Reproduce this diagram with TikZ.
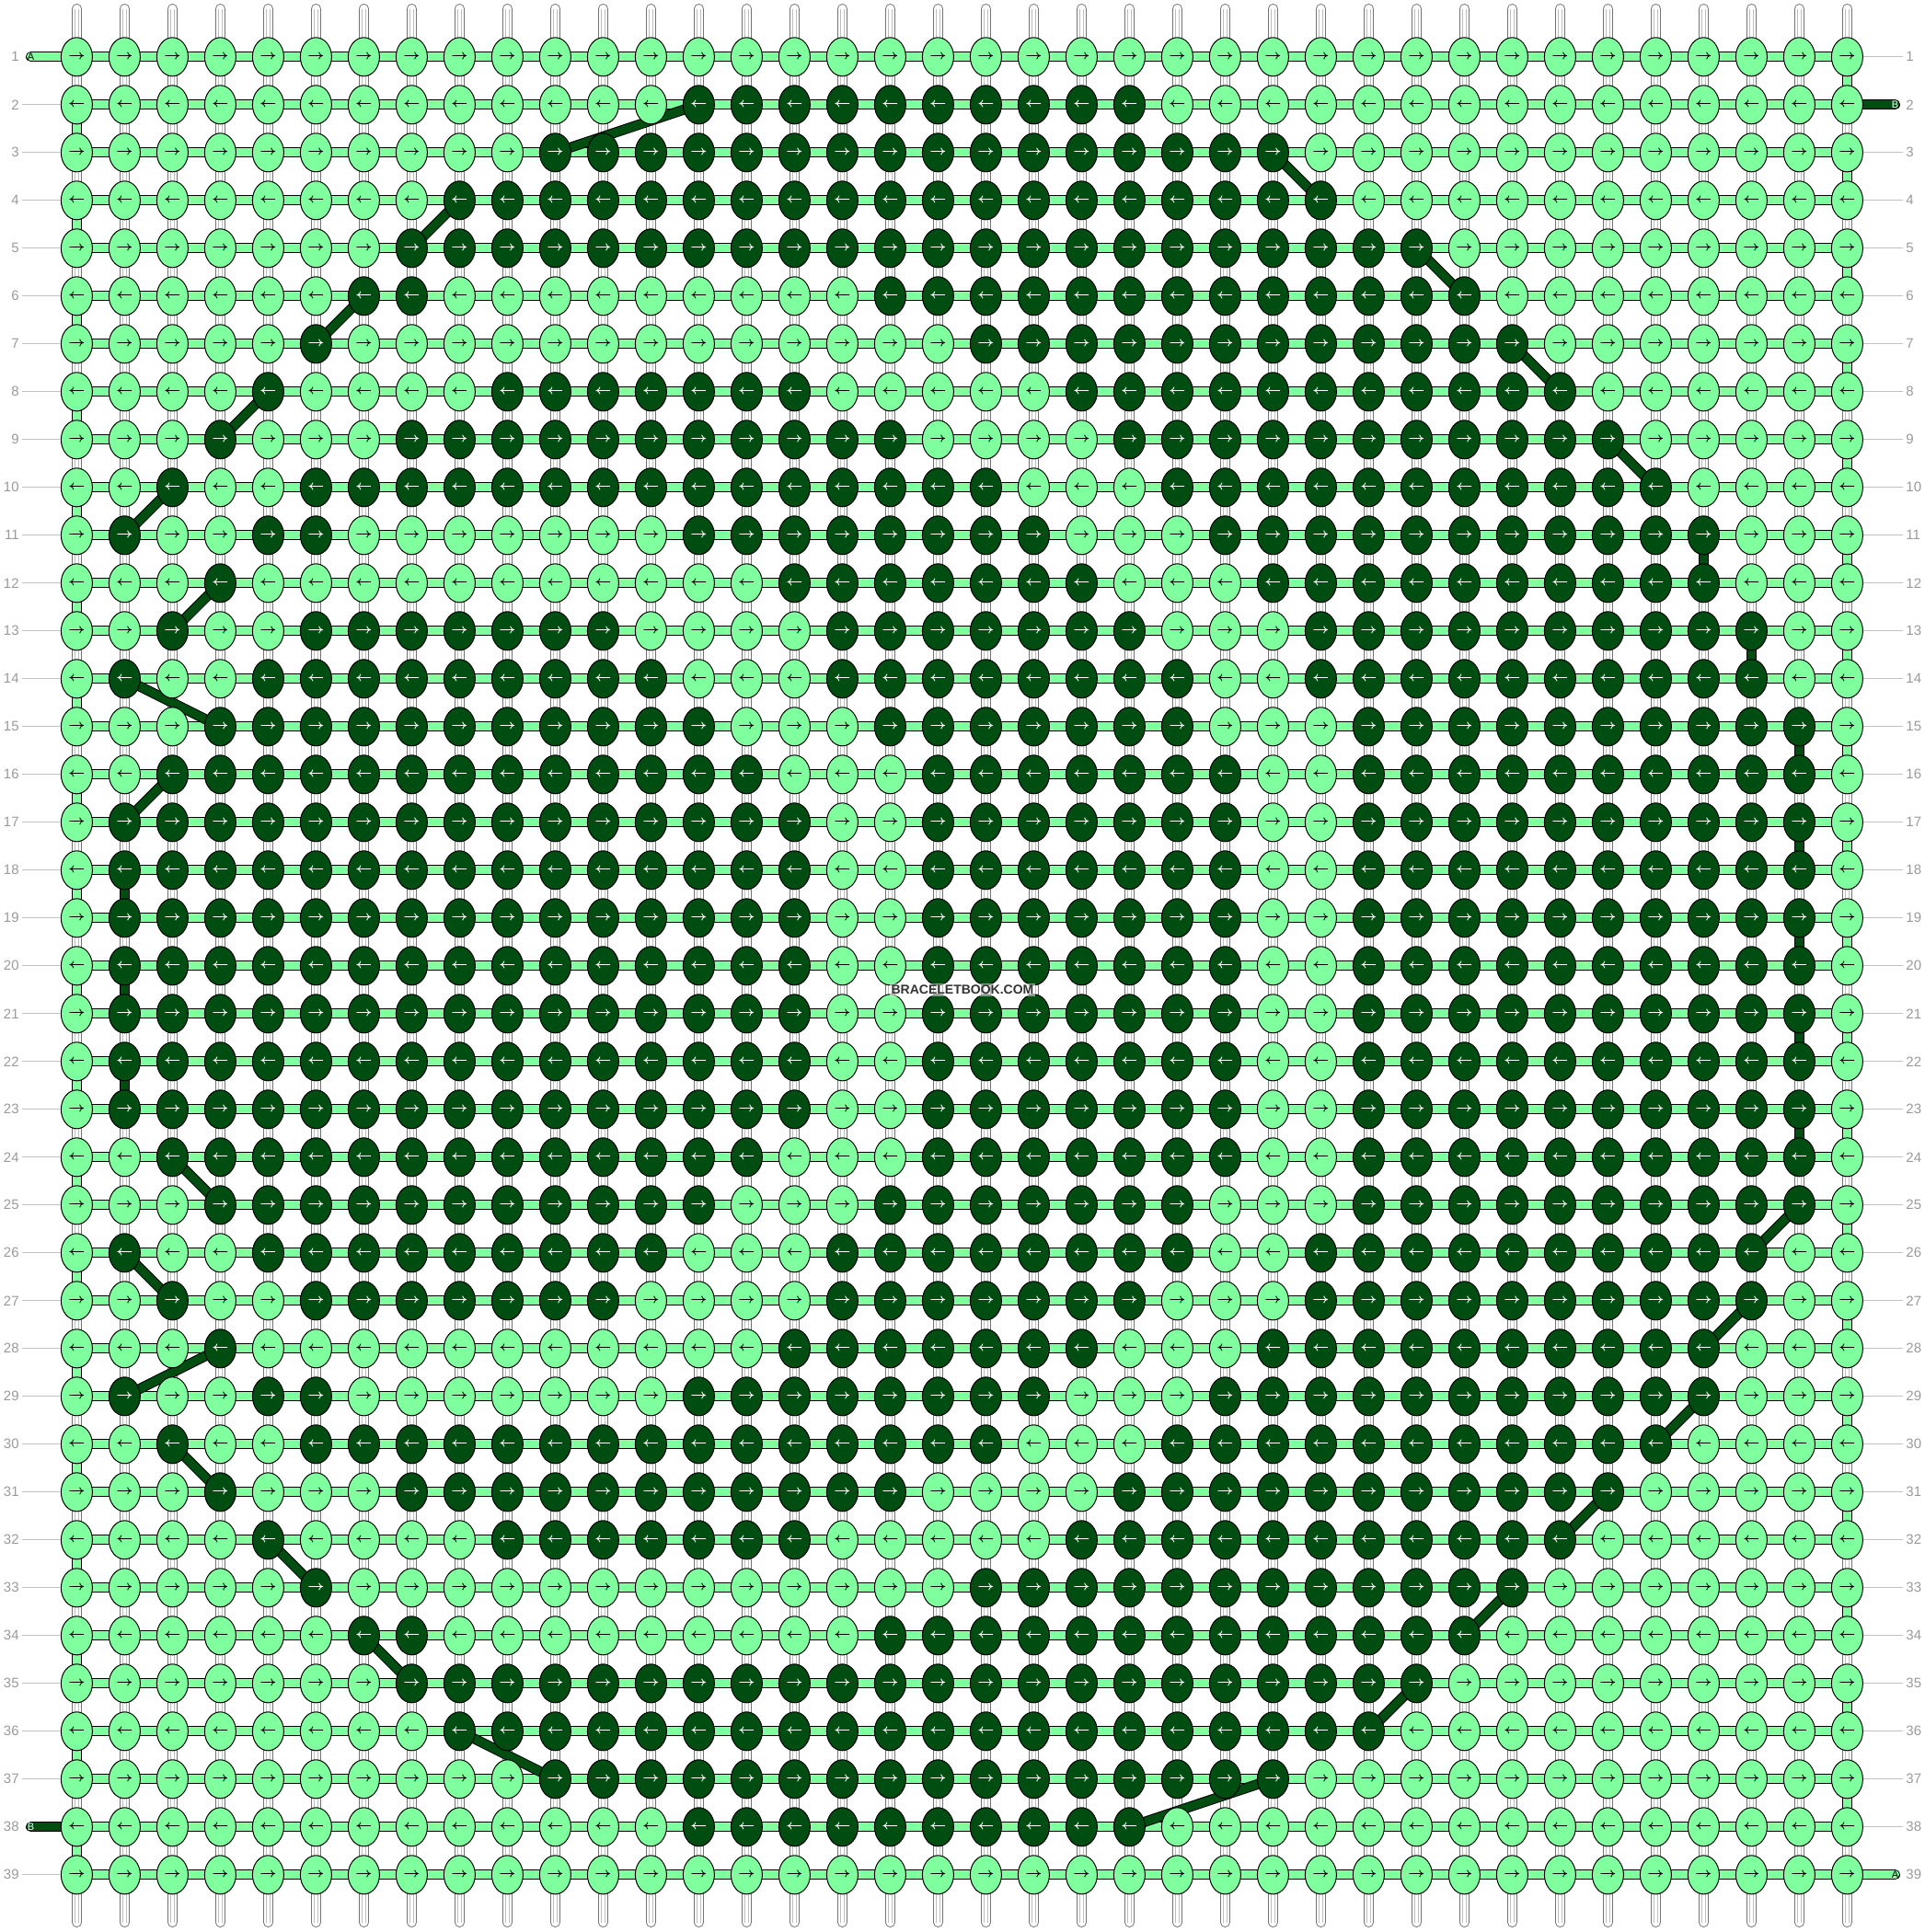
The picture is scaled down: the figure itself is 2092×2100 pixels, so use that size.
\documentclass[tikz,border=0pt]{standalone}
\usepackage{fontspec}
\setmainfont{Liberation Sans}
\usepackage{amsmath}
\usetikzlibrary{shapes.geometric}
\definecolor{threadlight}{HTML}{80FF9E}
\definecolor{threaddark}{HTML}{004D12}
\definecolor{numgray}{HTML}{9A9A9A}
\pgfdeclarelayer{strands}
\pgfdeclarelayer{bars}
\pgfdeclarelayer{trail}
\pgfsetlayers{strands,bars,trail,main}
\begin{document}
\begin{tikzpicture}[x=0.5pt,y=-0.5pt,
knot/.style={ellipse,draw,line width=0.5pt,minimum width=17pt,minimum height=21pt,inner sep=0pt,font=\fontsize{7}{7}\selectfont},
strand/.style={draw=black!55,line width=0.5pt,double=white,double distance=4.5pt,line cap=round},
strandcore/.style={draw=black!25,line width=0.3pt,double=white,double distance=1.6pt},
bar/.style={draw=black,line width=0.5pt,double=threadlight,double distance=4.5pt},
darkbar/.style={draw=black,line width=0.5pt,double=threaddark,double distance=4.5pt},
rownum/.style={text=numgray,font=\fontsize{7.5}{8}\selectfont,inner sep=1.5pt},
tick/.style={draw=numgray!60,line width=0.5pt},
endlabel/.style={font=\fontsize{5.5}{6}\selectfont,inner sep=0pt},
siteword/.style={font=\bfseries\fontsize{7}{8}\selectfont,text=black!80,fill=white,fill opacity=0.5,text opacity=1,inner sep=1pt}]
\useasboundingbox (0,0) rectangle (2092,2100);
\foreach \r/\runs in {1/{0/0},2/{14/23},3/{11/26},4/{9/27},5/{8/29},6/{7/8,18/30},7/{6/6,20/31},
8/{5/5,10/16,22/32},9/{4/4,8/18,23/33},10/{3/3,6/20,24/34},11/{2/2,5/6,14/21,25/35},
12/{4/4,16/22,26/35},13/{3/3,6/12,17/23,27/36},14/{2/2,5/13,17/24,27/36},15/{4/14,18/24,28/37},
16/{3/15,19/25,28/37},17/{2/16,19/25,28/37},18/{2/16,19/25,28/37},19/{2/16,19/25,28/37},
20/{2/16,19/25,28/37},21/{2/16,19/25,28/37},22/{2/16,19/25,28/37},23/{2/16,19/25,28/37},
24/{3/15,19/25,28/37},25/{4/14,18/24,28/37},26/{2/2,5/13,17/24,27/36},27/{3/3,6/12,17/23,27/36},
28/{4/4,16/22,26/35},29/{2/2,5/6,14/21,25/35},30/{3/3,6/20,24/34},31/{4/4,8/18,23/33},
32/{5/5,10/16,22/32},33/{6/6,20/31},34/{7/8,18/30},35/{8/29},36/{9/28},37/{11/26},38/{14/23},39/{0/0}}{
  \foreach \c in {1,...,38}{
    \gdef\kfill{threadlight}\gdef\ktext{black}
    \foreach \a/\b in \runs {\ifnum\c<\a\relax\else\ifnum\c>\b\relax\else\gdef\kfill{threaddark}\gdef\ktext{white}\fi\fi}
    \node[knot,fill=\kfill,text=\ktext] (k-\r-\c) at ({83.4+52*(\c-1)},{61.8+52*(\r-1)})
      {\ifodd\r$\boldsymbol\rightarrow$\else$\boldsymbol\leftarrow$\fi};
  }
}
\begin{pgfonlayer}{strands}
\foreach \c in {1,...,38}{
  \coordinate (top-\c) at ({83.4+52*(\c-1)},9.5);
  \coordinate (bot-\c) at ({83.4+52*(\c-1)},2089.5);
  \draw[strand] (top-\c) -- (bot-\c);
  \draw[strandcore] (top-\c) -- (bot-\c);
}
\end{pgfonlayer}
\begin{pgfonlayer}{bars}
\foreach \r in {1,...,39} \draw[bar] (k-\r-1.center) -- (k-\r-38.center);
\foreach \r in {2,4,...,38}{\pgfmathtruncatemacro\rn{\r+1}\draw[bar] (k-\r-1.center) -- (k-\rn-1.center);}
\foreach \r in {1,3,...,37}{\pgfmathtruncatemacro\rn{\r+1}\draw[bar] (k-\r-38.center) -- (k-\rn-38.center);}
\path (k-1-1.center) ++(-49.9,0) coordinate (tailA-l);
\path (k-38-1.center) ++(-49.9,0) coordinate (tailB-l);
\path (k-2-38.center) ++(52.1,0) coordinate (tailB-r);
\path (k-39-38.center) ++(52.1,0) coordinate (tailA-r);
\draw[bar,line cap=round] (tailA-l) -- (k-1-1.center);
\draw[darkbar,line cap=round] (tailB-l) -- (k-38-1.center);
\draw[darkbar,line cap=round] (tailB-r) -- (k-2-38.center);
\draw[bar,line cap=round] (tailA-r) -- (k-39-38.center);
\end{pgfonlayer}
\begin{pgfonlayer}{trail}
\foreach \ra/\ca/\rb/\cb in {2/14/3/11,3/26/4/27,4/9/5/8,5/29/6/30,6/7/7/6,7/31/8/32,8/5/9/4,9/33/10/34,
10/3/11/2,11/35/12/35,12/4/13/3,13/36/14/36,14/2/15/4,15/37/16/37,16/3/17/2,17/37/18/37,18/2/19/2,
19/37/20/37,20/2/21/2,21/37/22/37,22/2/23/2,23/37/24/37,24/3/25/4,25/37/26/36,26/2/27/3,27/36/28/35,
28/4/29/2,29/35/30/34,30/3/31/4,31/33/32/32,32/5/33/6,33/31/34/30,34/7/35/8,35/29/36/28,36/9/37/11,
37/26/38/23}
  \draw[darkbar] (k-\ra-\ca.center) -- (k-\rb-\cb.center);
\end{pgfonlayer}
\node[endlabel] (lA-l) at (tailA-l) {A};
\node[endlabel,text=white] (lB-l) at (tailB-l) {B};
\node[endlabel,text=white] (lB-r) at (tailB-r) {B};
\node[endlabel] (lA-r) at (tailA-r) {A};
\foreach \r in {1,...,39}{
  \node[rownum,anchor=east] (ln-\r) at (24,{61.8+52*(\r-1)}) {\r};
  \node[rownum,anchor=west] (rn-\r) at (2068,{61.8+52*(\r-1)}) {\r};
}
\foreach \r in {2,...,37,39} \draw[tick] (ln-\r) -- (k-\r-1);
\foreach \r in {1,3,4,...,38} \draw[tick] (rn-\r) -- (k-\r-38);
\node[siteword] (site) at (1046,1076) {BRACELETBOOK.COM};
\end{tikzpicture}
\end{document}
